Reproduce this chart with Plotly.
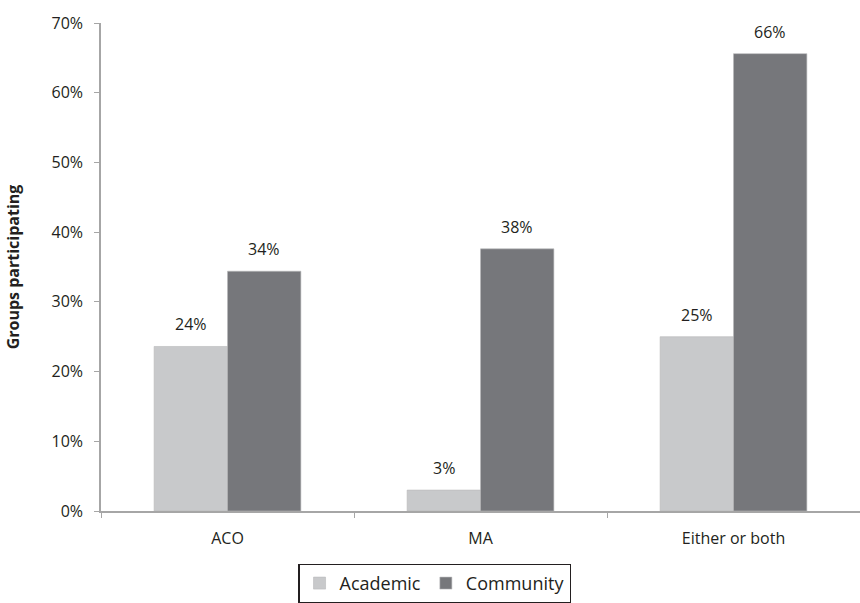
import plotly.graph_objects as go

categories = ["ACO", "MA", "Either or both"]
academic = [0.236, 0.03, 0.25]
community = [0.344, 0.376, 0.656]
series_names = ["Academic", "Community"]
colors = ["#C8C9CB", "#76777B"]
y_ticks = [0, 0.1, 0.2, 0.3, 0.4, 0.5, 0.6, 0.7]

FONT = "Open Sans"
fig = go.Figure()
for name, vals, col in zip(series_names, [academic, community], colors):
    fig.add_trace(go.Bar(x=categories, y=vals, name=name, marker=dict(color=col, line=dict(color="#B8B9BB", width=0.6))))

annotations = []
for vals, shift in [(academic, -36.5), (community, 36.5)]:
    for c, v in zip(categories, vals):
        annotations.append(dict(x=c, y=v, xref="x", yref="y", text=f"{round(v*100):d}%",
                                showarrow=False, xshift=shift, yanchor="bottom", yshift=9,
                                font=dict(family=FONT, size=16, color="#231F20")))

fig.update_layout(
    width=860, height=603,
    margin=dict(l=101, r=0, t=23, b=89),
    paper_bgcolor="white", plot_bgcolor="white",
    barmode="group", bargap=0.42, bargroupgap=0,
    font=dict(family=FONT, size=16, color="#231F20"),
    annotations=annotations,
    showlegend=True,
    legend=dict(orientation="h", x=0.26, xanchor="left", y=-0.108, yanchor="top",
                bordercolor="#231F20", borderwidth=1.2, font=dict(size=18, family=FONT),
                itemwidth=30, traceorder="normal"),
    xaxis=dict(showline=True, linecolor="#A6A6A6", linewidth=1.5, ticks="outside", ticklen=5,
               tickcolor="#A6A6A6", tickson="boundaries", showgrid=False, ticklabelstandoff=12,
               tickfont=dict(size=16, family=FONT)),
    yaxis=dict(range=[0, 0.7], tickvals=y_ticks, tickformat=".0%", showline=True,
               linecolor="#A6A6A6", linewidth=1.5, ticks="outside", ticklen=5, tickcolor="#A6A6A6",
               showgrid=False, zeroline=False, tickfont=dict(size=16, family=FONT), ticklabelstandoff=8,
               title=dict(text="<b>Groups participating</b>", font=dict(size=16, family=FONT), standoff=28)),
)
fig.write_html("out.html")
